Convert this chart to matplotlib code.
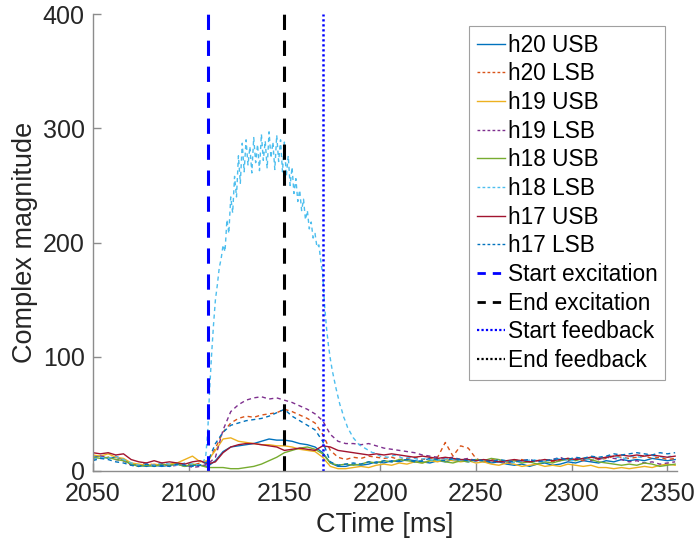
import numpy as np
import matplotlib
matplotlib.use("Agg")
import matplotlib.pyplot as plt
from matplotlib.lines import Line2D

plt.rcParams['font.family'] = ['Liberation Sans', 'DejaVu Sans']

# common time base (ms) for the low-level signals
t = np.arange(2050, 2355, 4)

h20_usb = [12, 13, 11, 12, 10, 6, 5, 4, 5, 4,
           5, 6, 4, 5, 5, 4, 9, 17, 21, 22,
           23, 24, 26, 28, 27, 27, 26, 24, 23, 21,
           16, 7, 4, 4, 6, 5, 6, 8, 7, 9,
           8, 10, 9, 8, 7, 9, 8, 10, 9, 8,
           10, 8, 7, 8, 6, 5, 6, 4, 6, 7,
           5, 6, 8, 7, 9, 8, 7, 9, 8, 10,
           9, 10, 9, 11, 10, 9, 10]
h20_lsb = [10, 12, 11, 13, 9, 6, 5, 7, 5, 6,
           5, 7, 6, 5, 7, 8, 20, 34, 42, 46,
           48, 47, 49, 50, 51, 54, 52, 49, 46, 42,
           32, 18, 12, 10, 12, 11, 13, 12, 11, 12,
           10, 11, 12, 10, 11, 12, 25, 13, 22, 20,
           11, 8, 10, 9, 7, 9, 10, 8, 9, 10,
           8, 9, 11, 10, 9, 12, 10, 11, 13, 12,
           11, 12, 13, 11, 12, 10, 11]
h19_usb = [14, 13, 15, 12, 11, 7, 6, 5, 6, 5,
           6, 7, 10, 13, 8, 9, 18, 28, 29, 26,
           25, 24, 23, 23, 22, 22, 21, 19, 18, 17,
           12, 4, 2, 2, 3, 4, 3, 5, 6, 5,
           7, 6, 8, 7, 9, 8, 10, 9, 8, 9,
           7, 8, 6, 5, 7, 6, 4, 5, 6, 4,
           5, 4, 6, 5, 4, 5, 3, 3, 2, 3,
           2, 3, 4, 3, 5, 6, 5]
h19_lsb = [11, 13, 12, 10, 9, 5, 4, 6, 5, 7,
           4, 5, 6, 3, 4, 6, 12, 36, 52, 58,
           62, 64, 65, 63, 64, 62, 60, 57, 54, 50,
           44, 32, 26, 24, 24, 23, 24, 22, 20, 19,
           18, 17, 16, 14, 13, 12, 11, 12, 10, 11,
           9, 10, 8, 9, 7, 8, 9, 10, 8, 9,
           10, 12, 9, 11, 10, 9, 10, 12, 11, 10,
           8, 9, 7, 8, 6, 7, 8]
h18_usb = [12, 11, 12, 10, 9, 6, 4, 5, 4, 6,
           5, 6, 4, 6, 5, 3, 3, 3, 2, 2,
           3, 4, 6, 9, 12, 16, 18, 20, 21, 19,
           15, 7, 5, 6, 5, 6, 8, 7, 9, 8,
           10, 9, 8, 7, 9, 10, 8, 7, 9, 8,
           10, 9, 11, 10, 8, 9, 7, 8, 6, 8,
           7, 9, 10, 9, 11, 10, 8, 7, 6, 5,
           6, 5, 7, 6, 4, 5, 6]
h17_usb = [16, 15, 16, 14, 15, 10, 8, 7, 9, 7,
           8, 7, 6, 8, 9, 6, 8, 16, 21, 23,
           24, 24, 23, 22, 21, 18, 19, 20, 19, 18,
           22, 21, 18, 17, 16, 15, 14, 15, 14, 15,
           14, 13, 12, 13, 12, 11, 12, 11, 10, 10,
           9, 10, 9, 8, 9, 10, 9, 8, 9, 10,
           9, 10, 11, 10, 11, 12, 11, 12, 13, 14,
           13, 14, 13, 14, 13, 12, 13]
h17_lsb = [9, 11, 10, 8, 7, 5, 4, 6, 4, 5,
           4, 6, 5, 4, 5, 8, 24, 34, 40, 42,
           44, 45, 46, 48, 51, 54, 48, 44, 40, 36,
           26, 8, 5, 6, 7, 6, 8, 7, 9, 8,
           9, 10, 8, 9, 11, 10, 9, 11, 10, 9,
           10, 9, 8, 10, 9, 8, 9, 10, 8, 9,
           10, 11, 10, 12, 11, 13, 12, 13, 15, 14,
           15, 16, 15, 14, 16, 15, 16]

# h18 LSB is sampled finer around the excitation
t_h18_lsb = np.concatenate([np.arange(2050, 2107, 4),
                            np.arange(2107, 2200, 1),
                            np.arange(2200, 2355, 4)])
h18_lsb = [10, 12, 11, 13, 10, 7, 5, 6, 5, 7, 6, 5, 7, 6, 5,
           6, 9, 14, 35, 72, 102, 128, 150, 163, 178,
           186, 198, 192, 220, 208, 240, 226, 258, 240, 276,
           252, 287, 262, 290, 268, 284, 261, 292, 270, 286,
           263, 295, 272, 289, 265, 297, 274, 288, 264, 294,
           271, 290, 262, 288, 258, 276, 250, 266, 243, 256,
           236, 246, 228, 238, 220, 228, 212, 218, 204, 208,
           196, 198, 184, 172, 145, 125, 110, 98, 88, 80,
           72, 65, 58, 53, 47, 43, 38, 35, 32, 29,
           27, 25, 23, 22, 21, 20, 19, 18, 17, 16,
           16, 15, 14,
           13, 12, 14, 11, 12, 10, 11, 9, 10, 11,
           9, 10, 8, 9, 10, 8, 9, 7, 8, 9,
           10, 8, 9, 11, 10, 9, 11, 10, 12, 11,
           13, 12, 11, 13, 12, 14, 13, 12, 13]

start_exc = 2110
end_exc = 2150
start_fb = 2170
end_fb = 2400   # not visible in the window

fig = plt.figure(figsize=(6.98, 5.47), dpi=100)
ax = fig.add_axes([0.133, 0.139, 0.837, 0.835])

dash = (3, 2.5)
ax.plot(t, h20_usb, color='#0072BD', lw=1.0)
ax.plot(t, h20_lsb, color='#D95319', lw=1.0, dashes=dash)
ax.plot(t, h19_usb, color='#EDB120', lw=1.0)
ax.plot(t, h19_lsb, color='#7E2F8E', lw=1.0, dashes=dash)
ax.plot(t, h18_usb, color='#77AC30', lw=1.0)
ax.plot(t_h18_lsb, h18_lsb, color='#4DBEEE', lw=1.0, dashes=dash)
ax.plot(t, h17_usb, color='#A2142F', lw=1.0)
ax.plot(t, h17_lsb, color='#0072BD', lw=1.0, dashes=dash)

ax.plot([start_exc, start_exc], [0, 400], color='#0000FF', lw=2.2, dashes=(5, 3.5))
ax.plot([end_exc, end_exc], [0, 400], color='black', lw=2.2, dashes=(5, 3.5))
ax.plot([start_fb, start_fb], [0, 400], color='#0000FF', lw=1.8, dashes=(0.9, 1.1))
ax.plot([end_fb, end_fb], [0, 400], color='black', lw=1.8, dashes=(0.9, 1.1))

# legend proxies (MATLAB draws short handles)
sd = (2, 1.6)
handles = [
    Line2D([], [], color='#0072BD', lw=1.0),
    Line2D([], [], color='#D95319', lw=1.0, dashes=sd),
    Line2D([], [], color='#EDB120', lw=1.0),
    Line2D([], [], color='#7E2F8E', lw=1.0, dashes=sd),
    Line2D([], [], color='#77AC30', lw=1.0),
    Line2D([], [], color='#4DBEEE', lw=1.0, dashes=sd),
    Line2D([], [], color='#A2142F', lw=1.0),
    Line2D([], [], color='#0072BD', lw=1.0, dashes=sd),
    Line2D([], [], color='#0000FF', lw=2.0, dashes=(3, 2.5)),
    Line2D([], [], color='black', lw=2.0, dashes=(3, 2.5)),
    Line2D([], [], color='#0000FF', lw=1.6, dashes=(1, 1)),
    Line2D([], [], color='black', lw=1.6, dashes=(1, 1)),
]
labels = ['h20 USB', 'h20 LSB', 'h19 USB', 'h19 LSB', 'h18 USB', 'h18 LSB',
          'h17 USB', 'h17 LSB', 'Start excitation', 'End excitation',
          'Start feedback', 'End feedback']
leg = ax.legend(handles, labels,
                loc='upper right', bbox_to_anchor=(0.98, 0.975), fontsize=16.3,
                handlelength=1.25, handletextpad=0.12, labelspacing=0.25,
                borderpad=0.35, borderaxespad=0.0, fancybox=False, framealpha=1)
leg.get_frame().set_edgecolor('#A0A0A0')
leg.get_frame().set_linewidth(0.8)

ax.set_xlim(2050, 2355)
ax.set_ylim(0, 400)
ax.set_xticks(np.arange(2050, 2351, 50))
ax.set_yticks([0, 100, 200, 300, 400])
for s in ['top', 'right']:
    ax.spines[s].set_visible(False)
for s in ['left', 'bottom']:
    ax.spines[s].set_color('#8C8C8C')
    ax.spines[s].set_linewidth(1.0)
ax.tick_params(direction='in', length=6, width=1.0, color='#8C8C8C',
               labelsize=18, labelcolor='#262626')
ax.tick_params(axis='x', pad=8)
ax.tick_params(axis='y', pad=6)
ax.set_xlabel('CTime [ms]', fontsize=19.5, color='#262626', labelpad=4)
ax.set_ylabel('Complex magnitude', fontsize=19.5, color='#262626', labelpad=3)

fig.savefig('out.png', dpi=100)
